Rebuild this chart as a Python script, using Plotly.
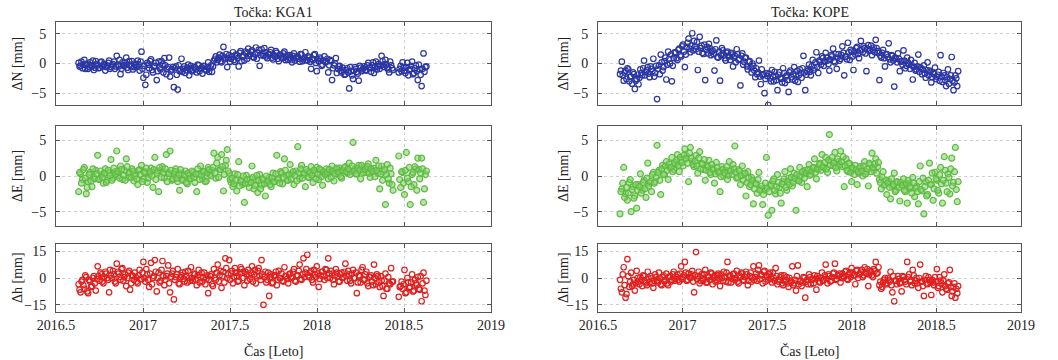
import plotly.graph_objects as go

# ---------------- data ----------------
t_start = 2016.63
t_step_days = 4  # sampling interval of each list (days); *_b lists are offset by 2 days

kga1_N = [0.1, -0.4, -0.8, 0.6, -0.2, -0.9, 0.2, -0.5, -1.1, 0.4,
          -0.3, -0.7, 0.3, -0.2, -1.2, -0.4, 0.5, -0.6, -0.1, -0.9,
          1.3, -0.5, -1.8, 0.2, -0.3, 1.0, -1.1, -0.2, 0.4, -0.6,
          -0.2, 0.5, -1.2, 2.0, -2.4, -3.6, 0.1, -0.8, 0.7, -1.5,
          -0.4, -2.8, 0.3, -1.0, -0.2, 0.9, -1.8, -0.6, -2.2, -1.0,
          -4.0, -0.5, -4.4, -1.3, 0.8, -0.9, -1.6, -0.7, -2.0, -0.4,
          -1.1, -0.6, -1.5, -0.3, -0.9, -1.7, -0.5, -1.2, 0.2, -0.8,
          -1.4, 0.5, 1.2, 0.6, 1.5, 0.2, 2.8, 1.0, -0.6, 1.4,
          0.8, 1.9, 0.3, 1.3, -0.5, 2.1, 1.1, 0.5, 1.7, 2.5,
          1.5, 2.2, 1.0, 2.7, 1.8, -0.4, 2.4, 1.3, 1.9, 0.9,
          1.6, 2.3, 0.7, 1.2, 1.8, 0.4, 1.5, 0.9, 2.0, 1.1,
          0.6, 1.4, 0.2, 1.7, 0.9, 1.2, 0.3, 1.5, 0.7, 1.9,
          0.5, 1.0, -0.9, 0.6, 1.6, -1.3, 0.4, 0.8, -0.2, 1.2,
          0.3, -1.5, 0.6, -2.8, -0.3, 0.9, -0.9, -0.4, -1.5, -1.1,
          -1.8, -0.8, -4.2, -1.3, -2.6, -0.6, -1.4, -2.9, -0.7, -1.0,
          -0.5, -1.2, 0.1, -0.8, -0.3, -1.6, 0.3, -0.5, -0.9, 1.3,
          -0.2, 0.6, -0.7, -1.5, -0.3, -1.1, None, None, -1.5, -0.4,
          0.2, -1.2, -0.6, -2.0, -0.9, 0.3, -1.6, -0.3, -2.8, -1.0,
          -3.8, 1.7, -0.6]
kga1_N_b = [-0.5, 0.3, -0.2, -0.9, 0.0, -0.6, -0.3, 0.5, -0.7, -0.1,
            -0.8, 0.2, -0.5, -0.1, -0.6, 0.1, -0.9, -0.3, 0.3, -0.5,
            -0.2, 0.6, -0.9, -0.4, 0.1, -0.7, 0.4, -0.5, -1.0, 0.0,
            -0.6, -0.1, 0.3, -0.9, -0.4, -1.9, -0.2, 0.4, -1.1, -0.5,
            0.1, -1.3, -0.7, 0.4, -1.5, -0.3, -0.9, 1.0, -1.2, -0.6,
            -0.8, -1.9, -0.3, -1.0, -1.4, -0.5, -1.1, -0.2, -0.9, -1.3,
            -0.6, -1.0, -0.2, -1.3, -0.7, -0.4, -1.0, -0.6, -1.4, -0.3,
            -0.5, 0.8, 0.2, 1.0, 0.4, 1.3, 0.7, 1.6, 0.9, 0.3,
            1.2, 0.6, 1.5, 0.9, 1.8, 0.4, 1.4, 2.0, 0.8, 1.3,
            2.0, 1.1, 1.6, 0.8, 2.3, 1.4, 1.7, 2.6, 1.2, 1.5,
            1.9, 1.0, 1.4, 2.1, 0.8, 1.3, 1.0, 1.7, 0.6, 1.4,
            1.0, 0.7, 1.3, 0.5, 1.1, 0.8, 1.6, 0.4, 1.0, 0.6,
            1.2, 0.3, 0.8, 1.4, 0.1, 0.7, 1.0, -0.4, 0.5, 0.2,
            0.8, -0.3, 0.4, -0.8, 0.0, -1.6, -0.5, -1.2, -0.7, -1.9,
            -1.1, -1.5, -0.6, -2.0, -1.2, -0.9, -1.7, -0.4, -1.3, -0.8,
            -1.1, -0.3, -0.7, -1.4, 0.2, -0.6, -1.0, -0.1, -0.4, 0.4,
            -0.6, -0.1, -1.0, 0.3, -0.8, None, None, None, -0.9, -1.3,
            -0.7, -1.6, 0.1, -1.1, -0.4, -1.8, -0.8, -1.3, -0.2, -1.9,
            -0.9, -1.4, -0.5]

kga1_E = [-2.2, 0.3, -0.5, 1.2, -2.5, -0.8, 0.5, -1.5, -0.2, 0.8,
          2.9, -0.4, 0.2, -1.0, 1.0, -0.6, 0.4, 2.3, -0.3, 0.6,
          3.5, 0.1, 1.4, -0.5, 0.8, 2.4, -0.2, 0.5, 1.0, -0.7,
          0.3, -1.2, 0.9, 1.5, -0.4, 0.6, -0.9, 0.2, 1.1, -1.6,
          2.6, 0.4, -2.2, 0.8, 1.3, -0.3, 3.0, 0.5, 3.5, -0.6,
          0.2, 1.0, -0.8, -2.0, 0.4, -0.5, 0.7, -1.1, 0.1, -0.3,
          0.5, -0.9, -2.2, 0.3, 1.4, -0.4, 0.6, -0.7, 1.2, 0.2,
          0.8, 3.2, -0.3, 2.6, 0.9, 3.0, -2.1, 1.5, 3.7, 0.4,
          -0.9, -1.5, 0.3, -2.1, 2.0, -0.6, -1.2, -3.7, 0.1, -1.0,
          -0.4, 1.4, -1.8, -0.7, -2.3, 0.2, -1.3, -0.5, -2.8, -0.9,
          -0.2, -1.5, 0.4, -0.8, 2.9, -0.3, 0.6, -1.1, 2.4, 0.1,
          -0.6, 1.6, 0.3, -1.2, 0.7, 4.1, -0.4, 1.5, 0.2, -1.5,
          0.6, -0.2, 1.3, -0.9, 0.4, 1.2, -0.5, 0.8, -1.3, 0.3,
          1.0, -0.4, 0.5, 1.4, -0.7, 0.9, 0.2, 1.1, -0.3, 0.7,
          1.3, 0.4, 1.8, 0.6, 4.7, 1.0, 0.3, 1.5, -0.4, 0.9,
          1.2, 0.5, 1.7, -0.2, 0.8, 1.1, 2.2, 0.4, -1.8, 1.4,
          0.6, -4.0, 1.6, -1.0, 0.3, -2.0, None, None, 2.8, -1.6,
          0.5, -2.6, 3.3, -0.8, -4.0, 0.2, -1.2, 1.0, 2.5, -0.4,
          2.5, -3.7, 0.2]
kga1_E_b = [0.5, -1.0, 0.9, -0.3, -1.6, 0.2, -0.7, 1.0, -0.4, 0.3,
            -0.5, 0.7, -0.2, 0.4, -0.9, 0.8, 0.0, -0.6, 1.1, 0.2,
            0.6, -0.3, 0.9, 0.1, -0.6, 1.3, 0.4, -0.2, 0.7, 0.0,
            -0.4, 0.8, 0.2, -0.8, 0.5, 1.1, -0.3, 0.6, 0.0, 0.9,
            -0.5, 0.7, 1.2, -0.2, 0.5, 1.0, -0.8, 0.3, 0.8, -0.4,
            0.6, -0.3, 0.2, 0.9, -0.6, 0.1, -0.9, 0.4, -0.4, 0.7,
            -0.2, 0.3, 1.0, -0.5, 0.1, 0.6, -0.8, 0.4, 0.9, 0.0,
            1.2, 0.4, 1.8, -0.2, 0.9, 1.3, 0.2, 2.2, 0.7, -0.5,
            -0.3, -1.1, -0.6, 0.2, -1.4, -0.8, 0.0, -1.0, -0.5, -1.6,
            -0.9, -0.2, -1.3, 0.1, -0.6, -1.8, -0.4, -1.1, 0.0, -0.7,
            -1.2, -0.3, -0.8, 0.3, -0.5, -1.0, 0.4, -0.2, 0.8, -0.6,
            0.2, -0.4, 0.6, 0.1, -0.7, 0.5, 1.0, -0.3, 0.4, 0.9,
            -0.2, 0.5, 0.1, 0.8, -0.4, 0.3, 1.0, -0.1, 0.6, 0.2,
            0.5, 0.9, -0.2, 0.7, 0.3, 1.1, 0.5, -0.1, 0.8, 1.2,
            0.6, 1.0, 0.2, 1.4, 0.7, 0.3, 1.1, 0.8, 1.5, 0.5,
            0.9, 1.3, 0.4, 1.0, 0.6, -0.1, 0.8, 1.4, 0.3, -0.6,
            0.9, 0.2, -0.4, 1.1, -1.2, None, None, None, -0.5, 0.6,
            -1.0, 0.8, -0.3, 1.2, -1.5, 0.5, 1.3, -2.0, 0.9, 0.4,
            1.0, -1.8, 0.7]

kga1_h = [-3.5, -8.0, -1.0, -6.0, 0.5, -8.5, -2.0, -4.5, 1.0, -7.0,
          6.5, -1.5, 2.0, -3.0, 3.5, 0.0, -8.0, 1.5, 4.0, -2.0,
          8.0, 2.5, -1.0, 5.5, 0.5, -4.5, 3.0, -6.5, 1.5, -1.0,
          0.5, -3.0, 4.5, -0.5, 9.0, -2.0, 2.0, -5.0, 8.5, 0.0,
          10.0, -7.5, 3.0, -1.5, 9.5, -4.0, 1.0, 7.0, -8.0, 2.5,
          -12.0, 0.5, 5.0, -3.5, 1.5, -0.5, 3.5, -2.5, 0.0, 6.0,
          -1.5, 2.0, -4.0, 4.5, 0.5, -2.0, 3.0, -0.5, -8.5, 1.0,
          -3.5, 5.0, -1.0, 7.5, 1.5, -5.5, 3.5, 11.0, 0.0, 10.0,
          2.5, -3.0, 5.5, 1.0, -1.5, 6.0, 3.0, -4.0, 2.0, 4.5,
          -0.5, 6.5, 2.0, -3.0, 4.0, 1.0, 10.0, -15.0, 3.5, -1.0,
          -10.0, 2.0, -2.5, 1.5, -4.0, 4.0, 0.0, -1.5, 6.0, 1.0,
          -3.0, 2.5, 0.5, 5.0, -2.0, 1.5, 7.5, -1.0, 11.0, 3.0,
          13.0, 0.5, 4.0, -2.5, 2.0, 6.5, -5.0, 1.5, 3.5, -1.0,
          4.5, 11.0, 0.0, 2.5, -3.5, 5.0, 1.0, -2.0, 3.0, 0.5,
          8.0, -1.5, 2.0, -3.0, 4.5, 0.0, -8.5, 1.5, -2.5, 6.0,
          -1.0, 3.5, -4.5, 0.5, -2.0, 7.5, -3.5, 1.0, -5.0, -1.5,
          -10.0, 2.5, -6.0, -3.0, 5.5, -2.0, None, None, -10.5, -4.5,
          -6.0, 4.5, -8.0, -2.5, -5.0, 2.0, -7.0, -3.0, 0.5, -6.5,
          -13.0, 3.0, -9.5]
kga1_h_b = [-6.5, -2.0, -4.0, 1.5, -7.5, -1.0, -5.0, 0.0, -3.0, -0.5,
            1.0, 3.0, -2.0, 0.5, 2.5, -1.0, 4.5, 0.0, 2.0, -3.0,
            3.5, 0.5, 5.0, -1.5, 2.0, 0.0, 4.0, -3.0, 1.0, 3.0,
            -2.0, 1.5, -0.5, 3.0, 0.0, 5.0, -1.0, 2.5, -3.5, 1.0,
            3.5, 0.0, -2.5, 4.5, 1.0, -1.0, 2.5, -3.0, 0.5, 4.0,
            -1.0, 2.0, -3.0, 0.5, 3.0, -2.0, 1.0, 4.0, -1.5, 0.0,
            2.5, -1.0, 1.5, -2.5, 3.0, 0.0, -3.5, 1.5, -1.0, 2.0,
            -4.5, 0.0, 3.0, -2.0, 4.0, 1.0, -2.5, 5.5, 2.0, -1.0,
            4.0, 0.5, 3.0, -2.0, 2.5, 5.0, 0.0, 3.5, -1.5, 1.5,
            3.0, -2.0, 4.5, 1.0, 5.5, -1.0, 2.0, 0.5, -2.5, 3.0,
            0.5, -3.0, 1.5, 3.5, -1.0, 0.0, 2.5, -2.0, 1.0, -0.5,
            2.0, 0.0, 3.5, -1.5, 1.0, 4.0, -0.5, 2.0, 0.5, 5.0,
            1.5, 3.0, -1.0, 4.5, 0.5, 2.5, -0.5, 3.5, 1.0, 5.0,
            0.0, 2.5, 4.0, -1.0, 1.5, 3.0, -2.0, 2.0, 0.0, 3.5,
            1.0, 4.0, -1.5, 2.5, 0.0, 3.0, -2.5, 1.0, 4.5, -1.0,
            2.0, -3.0, 0.5, 1.5, -4.0, 0.0, 2.0, -2.5, 1.0, -4.5,
            -1.5, -6.0, 0.5, -3.5, -2.0, None, None, None, -5.0, -2.0,
            -3.5, -8.5, 0.0, -5.5, -2.5, -7.5, -1.0, -4.0, -6.0, 1.0,
            -3.0, -7.0, -1.5]

kope_N = [-1.8, 0.3, -2.9, -1.2, -0.8, -3.0, -2.2, -1.5, -4.3, -2.6,
          -3.5, -1.0, -2.0, 0.5, -1.4, -0.6, -2.3, -0.9, 0.8, -1.6,
          -6.0, -0.3, 1.5, -1.2, 0.4, -2.7, 2.0, 0.0, -3.0, 0.9,
          1.8, 0.6, 2.5, 1.2, 3.2, -0.6, 2.8, 4.2, 1.9, 5.1,
          3.8, 2.4, -1.1, 4.5, 3.0, 1.6, -2.8, 2.8, 3.3, 1.4,
          2.2, -1.2, 3.9, 1.0, -2.9, 2.6, 1.5, 0.5, 2.0, 1.2,
          1.8, -0.5, 1.3, 2.4, 0.6, -3.7, 1.7, 0.3, 1.0, -1.0,
          0.4, -1.5, -0.4, -2.3, -1.8, 0.5, -3.5, -2.0, -5.0, -1.6,
          -7.0, -2.5, -1.1, -3.0, -2.1, -4.5, -1.5, -2.6, -0.8, -3.3,
          -2.0, -4.8, -1.2, -2.7, -0.6, -1.9, -3.1, -1.0, -2.4, 1.3,
          -4.5, -1.3, -0.2, -2.0, 0.6, -0.8, 1.9, -1.6, 0.3, 1.2,
          -0.4, 1.8, 0.5, -1.2, 1.4, 2.5, 0.2, -0.9, 1.6, 0.8,
          2.9, -2.0, 1.2, 3.5, 0.6, 2.0, -1.1, 1.5, 2.8, 0.9,
          3.8, 1.9, 2.6, -1.3, 3.1, 2.2, 1.4, 2.7, 4.0, 1.8,
          -2.8, 1.0, 2.3, -0.5, 1.6, 3.4, 0.2, 1.3, -3.9, 0.8,
          1.7, -1.3, 0.4, 2.2, -0.8, 1.0, -0.2, 0.6, -2.7, 0.1,
          -1.0, 1.5, -0.6, -1.8, -0.3, -2.4, 0.2, -1.2, -3.2, -1.5,
          -0.7, -2.2, -1.4, 1.4, -3.1, -2.0, -3.8, -1.0, -2.6, 1.1,
          -4.5, -2.0, -3.8]
kope_N_b = [-1.2, -2.0, -1.5, -2.6, -1.0, -2.2, -3.4, -1.8, -2.9, -1.9,
            -2.4, -1.6, -0.8, -2.0, -1.1, -1.7, -0.5, -1.3, -2.2, -0.4,
            -0.9, -1.8, 0.2, -0.6, 1.0, -0.2, 0.8, 1.5, -0.4, 1.9,
            0.9, 2.3, 1.4, 2.9, 2.0, 1.5, 3.5, 2.5, 3.0, 2.2,
            2.9, 3.6, 2.0, 2.6, 1.8, 3.2, 2.3, 1.7, 2.6, 2.0,
            1.6, 2.4, 1.1, 2.0, 1.4, 2.2, 0.9, 1.8, 1.3, 0.6,
            1.5, 1.0, 0.2, 1.6, 0.8, 1.3, -0.2, 0.9, -0.5, 0.3,
            -0.6, 0.0, -1.2, -0.8, -1.5, -2.2, -1.0, -1.8, -2.6, -2.1,
            -1.7, -3.0, -2.2, -1.4, -2.8, -1.9, -2.4, -3.2, -1.6, -2.2,
            -2.8, -1.5, -2.3, -1.8, -2.9, -1.3, -2.0, -1.6, -0.8, -1.5,
            -1.9, -0.9, -1.4, -0.5, -1.1, 0.2, -0.6, 0.5, -0.2, 0.9,
            0.3, 1.0, -0.1, 0.7, 1.2, 0.4, 1.6, 1.0, 0.5, 1.4,
            1.8, 1.1, 0.7, 1.9, 2.3, 1.2, 2.0, 2.6, 1.6, 2.2,
            2.4, 2.9, 1.7, 2.5, 2.1, 3.0, 2.3, 1.9, 2.6, 2.1,
            1.3, 1.8, 0.9, 1.5, 1.1, 0.7, 1.4, 0.5, 1.0, 0.2,
            0.8, 0.3, -0.2, 0.5, -0.4, 0.1, -0.9, -0.3, -0.6, -1.2,
            -0.5, -1.4, -0.8, -1.0, -1.7, -1.1, -2.0, -1.4, -2.3, -1.8,
            -2.6, -1.9, -2.9, -2.2, -1.6, -2.8, -2.3, -3.4, -2.0, -2.9,
            -3.2, -2.5, -1.3]

kope_E = [-5.3, -1.8, 1.2, -2.5, -3.4, -0.9, -5.0, -1.5, -2.8, -4.5,
          -1.2, 0.3, -2.0, -0.6, -3.0, 1.8, -1.0, -2.2, 0.5, -0.8,
          4.3, 0.8, -2.6, 1.5, 0.2, 2.0, -0.5, 1.1, 2.6, 0.9,
          1.7, 3.0, 0.6, 2.2, 1.4, 3.8, 2.8, -0.8, 4.0, 2.1,
          1.3, 2.9, 0.4, 3.4, 1.8, 0.9, -0.6, 1.5, 2.2, 0.2,
          1.1, -1.0, 1.9, 0.5, -2.2, 1.3, 0.0, 0.8, -0.5, 2.0,
          0.7, 1.6, 4.2, -0.3, 0.9, -1.2, 1.4, 0.3, -2.8, 0.6,
          -1.5, -0.2, -3.9, -1.0, -2.4, 0.5, -1.8, -4.0, -2.0, 2.6,
          -5.5, -1.2, -4.8, -0.4, -2.5, 0.2, -1.6, -3.8, -0.8, 0.6,
          -2.0, -0.3, 1.0, -1.4, 0.4, -4.8, -0.6, 1.2, -0.9, 0.3,
          0.8, -1.5, 1.6, 0.2, 1.1, 2.4, -0.4, 0.9, 1.8, 3.0,
          1.2, 2.6, 0.5, 5.8, 2.1, 1.4, 3.3, 0.7, 2.0, 3.5,
          1.3, -1.5, 2.4, 0.6, 1.7, -0.8, 0.9, 1.5, -1.2, 0.4,
          1.1, 0.0, 2.0, 0.6, -1.4, 1.6, 3.2, 0.8, 2.4, 1.3,
          -0.5, -1.8, 0.6, -1.2, -2.6, -0.7, -3.2, -1.5, 0.4, -2.0,
          -0.9, -3.5, -1.3, -0.4, -2.2, -3.8, -1.0, -1.7, -0.2, -2.9,
          -1.4, -3.9, 1.4, -2.1, -5.3, -0.8, -2.6, 1.8, -1.2, -3.4,
          0.5, -0.6, -2.4, 1.2, -3.8, 2.7, -1.0, 0.3, -2.5, 2.5,
          -0.9, 4.0, -3.6]
kope_E_b = [-2.2, -1.0, -3.0, -1.6, -2.4, -0.5, -1.9, -3.1, -1.2, -2.0,
            -1.5, -2.4, -0.9, -1.8, -0.3, -1.4, -0.8, 0.2, -1.0, -0.2,
            0.5, -0.6, 1.0, 0.2, 1.4, 0.8, 1.7, 1.2, 0.6, 1.9,
            2.2, 1.5, 2.6, 1.9, 2.9, 2.4, 1.8, 3.2, 2.5, 1.6,
            2.1, 1.4, 2.5, 1.0, 1.7, 2.3, 0.8, 1.3, 0.5, 1.6,
            0.9, 0.3, 1.2, 0.6, -0.1, 0.9, 0.4, 1.3, 0.1, 0.7,
            0.2, 1.0, 0.5, -0.2, 0.7, 0.0, -0.6, 0.4, -0.9, -0.3,
            -1.2, -0.6, -1.8, -1.1, -0.5, -2.0, -1.4, -2.6, -1.0, -1.7,
            -2.2, -1.3, -0.7, -2.0, -1.5, -0.9, -2.4, -1.1, -0.4, -1.6,
            -0.8, -1.2, -0.2, -0.9, -0.4, 0.2, -0.7, 0.0, 0.6, -0.3,
            0.4, 0.9, 0.1, 0.7, 1.2, 0.5, 1.0, 1.6, 0.8, 1.3,
            1.9, 1.0, 2.2, 1.5, 2.6, 1.8, 1.2, 2.4, 1.6, 2.0,
            2.7, 1.4, 0.8, 1.8, 0.5, 1.1, 0.2, 0.9, 0.6, 1.3,
            0.7, 1.4, 0.3, 1.0, 1.8, 0.6, 1.2, 1.7, 0.4, 1.9,
            -0.9, -0.2, -1.3, -0.6, -1.0, -1.6, -0.4, -1.2, -2.2, -0.8,
            -1.6, -0.9, -1.3, -2.0, -1.1, -0.6, -1.5, -2.4, -1.0, -1.7,
            -2.2, -0.8, -1.9, -0.3, -1.5, -2.8, -0.6, -1.2, 0.4, -1.8,
            -0.4, -2.0, 0.2, -1.1, -0.6, 0.8, -2.2, -0.2, 1.0, -1.4,
            0.6, -1.9, -0.8]

kope_h = [-1.0, -8.0, 6.0, -11.0, 10.5, -5.0, 3.0, -3.5, -7.0, 4.0,
          -2.0, 0.5, -4.5, 1.0, -3.0, 3.5, -2.5, 0.0, -5.5, 2.0,
          -1.5, 3.0, -3.5, 0.5, -2.0, 2.5, -4.0, 1.0, -1.0, 3.5,
          -0.5, 2.0, -2.0, 6.5, 0.5, 9.0, -1.5, 2.5, 0.0, 4.0,
          -8.0, 14.5, 1.0, -3.0, 2.0, -1.5, 4.5, -2.5, 0.5, 3.0,
          -3.5, 1.5, -1.0, 2.5, -4.5, 0.0, 3.5, -2.0, 9.0, 1.0,
          -2.5, 2.0, -1.0, 4.0, -3.0, 0.5, 2.5, -1.5, 3.5, -4.0,
          1.0, -2.0, 6.5, 0.5, -1.5, 7.0, 2.0, -3.0, 4.0, 1.5,
          -1.0, 3.0, -2.5, 0.0, 5.5, -3.5, -1.0, 1.5, -4.0, -2.0,
          0.5, -5.0, -1.5, 6.5, -3.0, -7.0, 7.0, -2.0, -4.5, 0.5,
          -11.0, -1.0, 2.0, -3.5, -0.5, 1.5, -6.5, 0.0, -2.5, 3.0,
          -1.0, 7.5, -3.0, 1.0, -1.5, 2.5, 8.0, -0.5, 1.5, -2.5,
          2.5, 0.5, 4.0, -1.0, 3.0, 5.5, 1.5, -3.5, 4.5, 2.0,
          3.5, 0.5, 6.0, 2.5, -4.5, 4.0, 1.5, 5.0, 9.0, 3.0,
          -4.0, -6.0, -2.5, 0.0, -3.5, -1.0, 3.5, -8.0, -13.0, -1.5,
          1.0, -3.0, -7.5, 0.5, -2.0, 9.0, 2.0, -1.5, 4.5, -3.0,
          0.0, -5.5, 7.5, -2.0, -10.0, 1.0, -3.5, -1.0, -9.5, -2.5,
          0.5, 5.0, -4.5, -1.5, -8.0, 2.0, -6.0, -3.0, 4.5, -10.0,
          -5.0, -11.0, -8.5]
kope_h_b = [-6.0, 2.0, -4.0, -9.0, 1.0, -2.0, -4.5, -1.0, -3.0, 0.0,
            -3.5, -1.0, 1.5, -2.0, -4.0, -0.5, 1.0, -3.0, -1.5, 0.5,
            -2.5, 0.0, -4.0, 1.5, -1.0, -3.0, 0.5, -2.0, 2.0, -1.5,
            0.5, -1.0, 2.5, -0.5, 1.5, 3.0, -1.0, 0.5, 2.0, -2.0,
            1.5, -0.5, 3.5, -1.5, 0.0, 2.0, -2.5, 1.0, -1.0, 2.5,
            0.0, -2.0, 1.5, -0.5, 2.0, -1.5, 0.5, 3.0, -2.5, 1.5,
            -0.5, 2.5, 0.0, -2.0, 1.5, 3.0, -1.0, 0.5, 2.0, -1.5,
            3.0, 0.0, -1.0, 2.5, 4.5, -0.5, 1.5, 3.5, -2.0, 0.5,
            2.0, -0.5, 3.0, -1.5, 1.0, -2.0, 0.5, -3.0, 1.5, -1.0,
            -3.0, 0.0, -2.0, -4.0, -1.0, 1.0, -3.5, -1.5, -2.5, 0.0,
            -2.0, -3.5, 0.5, -1.0, -3.0, -0.5, 1.0, -2.0, 0.0, -1.5,
            1.5, -0.5, 2.0, -2.0, 0.5, 3.0, -1.0, 1.0, 2.5, 0.0,
            1.0, 3.5, -0.5, 2.0, 0.5, 3.0, 1.5, 4.0, 0.0, 2.5,
            4.5, 1.5, 3.0, 5.0, 2.0, 3.5, 0.5, 4.0, 2.5, 6.0,
            -2.0, -5.0, -1.0, -3.0, 0.0, -2.0, -4.0, 1.0, -1.5, -3.5,
            -0.5, -2.5, 1.0, -1.0, -3.5, 0.5, -2.0, -4.0, 1.5, -1.5,
            -3.0, 0.0, -2.0, -4.5, -1.0, -3.0, 0.5, -2.5, -1.0, -4.0,
            -2.0, -5.5, 0.5, -3.0, -1.5, -4.5, -6.5, -2.5, -5.0, -7.5,
            -3.0, -6.0, -4.5]

x_tickvals = [2016.5, 2017, 2017.5, 2018, 2018.5, 2019]
x_ticktext = ["2016.5", "2017", "2017.5", "2018", "2018.5", "2019"]
titles = ["Točka: KGA1", "Točka: KOPE"]
y_titles = ["ΔN [mm]", "ΔE [mm]", "Δh [mm]"]
x_title = "Čas [Leto]"

# time axis (decimal years) of the samples
n = len(kga1_N)
t_a = [t_start + i * t_step_days / 365.25 for i in range(n)]
t_b = [v + 2 / 365.25 for v in t_a]
t = t_a + t_b

# ---------------- figure ----------------
W, H = 1058, 360
FONT = "Liberation Serif"
TXT = "#222222"
col_px = [(56, 491), (598, 1021)]
ytitle_off = [39, 35]
row_px = [(22, 105), (126, 226), (244, 312)]
yr = [[-7, 7], [-7, 7], [-19, 19]]
ytv = [[-5, 0, 5], [-5, 0, 5], [-15, 0, 15]]

BLUE = "#2B36A3"
GREEN = "#5DBB3F"
RED = "#E0201E"

series = [[kga1_N + kga1_N_b, kope_N + kope_N_b],
          [kga1_E + kga1_E_b, kope_E + kope_E_b],
          [kga1_h + kga1_h_b, kope_h + kope_h_b]]
fig = go.Figure()
layout_axes = {}

for r in range(3):
    for c in range(2):
        k = r * 2 + c + 1
        xa = "x" if k == 1 else f"x{k}"
        ya = "y" if k == 1 else f"y{k}"
        y = series[r][c]
        if r == 0:
            mk = dict(symbol="circle-open", size=5.5, color=BLUE, line=dict(width=1.2, color=BLUE))
        elif r == 1:
            mk = dict(symbol="circle", size=6, color="rgba(130,205,105,0.55)",
                      line=dict(width=1.2, color=GREEN))
        else:
            mk = dict(symbol="circle-open", size=5.5, color=RED, line=dict(width=1.2, color=RED))
        fig.add_trace(go.Scatter(x=t, y=y, mode="markers", marker=mk,
                                 xaxis=xa, yaxis=ya, showlegend=False,
                                 hoverinfo="x+y"))
        x0, x1 = col_px[c]
        y0, y1 = row_px[r]
        xkey = "xaxis" if k == 1 else f"xaxis{k}"
        ykey = "yaxis" if k == 1 else f"yaxis{k}"
        common = dict(showline=True, linecolor="#555", linewidth=1, mirror="ticks",
                      ticks="inside", ticklen=4, tickcolor="#555", automargin=False,
                      showgrid=True, gridcolor="#cfcfcf", griddash="dot", gridwidth=1,
                      zeroline=False, tickfont=dict(family=FONT, size=14, color=TXT))
        layout_axes[xkey] = dict(domain=[x0 / W, x1 / W], range=[2016.5, 2019],
                                 tickvals=x_tickvals, ticktext=x_ticktext,
                                 showticklabels=(r == 2), anchor=ya, **common)
        layout_axes[ykey] = dict(domain=[1 - y1 / H, 1 - y0 / H], range=yr[r],
                                 tickvals=ytv[r], anchor=xa, ticklabelstandoff=6,
                                 **common)

annotations = []
for c in range(2):
    x0, x1 = col_px[c]
    xc = (x0 + x1) / 2 / W
    annotations.append(dict(text=titles[c], x=xc, y=1 - 13 / H, xref="paper", yref="paper",
                            showarrow=False, font=dict(family=FONT, size=14, color=TXT),
                            xanchor="center", yanchor="middle"))
    annotations.append(dict(text=x_title, x=xc, y=1 - 351 / H, xref="paper", yref="paper",
                            showarrow=False, font=dict(family=FONT, size=14, color=TXT),
                            xanchor="center", yanchor="middle"))
    for r in range(3):
        y0, y1 = row_px[r]
        xt = (x0 - ytitle_off[c]) / W
        annotations.append(dict(text=y_titles[r], x=xt, y=1 - (y0 + y1) / 2 / H,
                                xref="paper", yref="paper", textangle=-90,
                                showarrow=False, font=dict(family=FONT, size=14, color=TXT),
                                xanchor="center", yanchor="middle"))

fig.update_layout(template="none", width=W, height=H,
                  margin=dict(l=0, r=0, t=0, b=0, pad=0),
                  paper_bgcolor="white", plot_bgcolor="white",
                  annotations=annotations, font=dict(family=FONT, color=TXT),
                  hovermode=False, **layout_axes)

# remove the browser's default 8 px page margin so the figure fills the window exactly
fig.write_html("out.html", config={"displayModeBar": False, "staticPlot": True},
               post_script="document.body.style.margin='0';document.body.style.overflow='hidden';")
